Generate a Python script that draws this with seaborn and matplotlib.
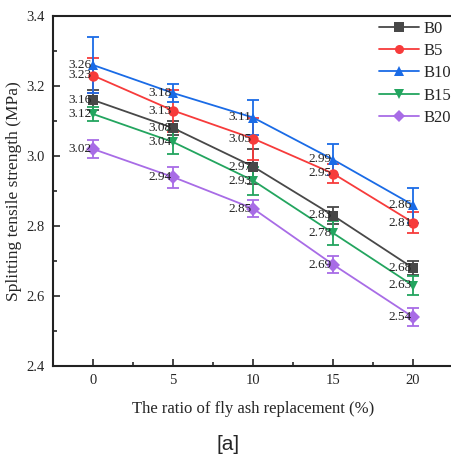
import numpy as np
import pandas as pd
import matplotlib
matplotlib.use("Agg")
import matplotlib.pyplot as plt
import seaborn as sns
from matplotlib.ticker import MultipleLocator
from matplotlib.lines import Line2D

x_vals = [0, 5, 10, 15, 20]
series = ["B0", "B5", "B10", "B15", "B20"]
B0 = [3.16, 3.08, 2.97, 2.83, 2.68]
B5 = [3.23, 3.13, 3.05, 2.95, 2.81]
B10 = [3.26, 3.18, 3.11, 2.99, 2.86]
B15 = [3.12, 3.04, 2.93, 2.78, 2.63]
B20 = [3.02, 2.94, 2.85, 2.69, 2.54]
err_B0 = [0.03, 0.02, 0.05, 0.025, 0.02]
err_B5 = [0.05, 0.06, 0.06, 0.027, 0.03]
err_B10 = [0.08, 0.025, 0.05, 0.045, 0.05]
err_B15 = [0.02, 0.035, 0.04, 0.035, 0.027]
err_B20 = [0.025, 0.03, 0.025, 0.025, 0.027]

values = [B0, B5, B10, B15, B20]
errs = [err_B0, err_B5, err_B10, err_B15, err_B20]
colors = ["#484848", "#f73b3b", "#1a6be6", "#23a55f", "#a86ce6"]
markers = ["s", "o", "^", "v", "D"]

df = pd.DataFrame({
    "x": np.tile(x_vals, len(series)),
    "y": np.concatenate(values),
    "s": np.repeat(series, len(x_vals)),
})

sns.set_style("ticks")
plt.rcParams["font.family"] = ["Liberation Serif", "DejaVu Serif"]

fig = plt.figure(figsize=(4.51, 4.63), dpi=100)
W, H = 451, 463
x0, x1 = 53, 453
y_top, y_bot = 16, 366
ax = fig.add_axes([x0 / W, 1 - y_bot / H, (x1 - x0) / W, (y_bot - y_top) / H])

for i, s in enumerate(series):
    ax.errorbar(x_vals, values[i], yerr=errs[i], fmt="none", ecolor=colors[i],
                elinewidth=1.3, capsize=4, capthick=1.3, zorder=2)

sns.lineplot(data=df, x="x", y="y", hue="s", style="s", hue_order=series,
             style_order=series, palette=colors, markers=dict(zip(series, markers)),
             dashes=False, linewidth=1.3, markersize=7.5, markeredgewidth=0,
             ax=ax, legend=False, zorder=3)

for i, s in enumerate(series):
    for xv, yv in zip(x_vals, values[i]):
        ax.annotate(f"{yv:.2f}", (xv, yv), xytext=(-1, 0), textcoords="offset points",
                    ha="right", va="center", fontsize=9.5, color="#222222", zorder=4)

ax.set_xlim(-2.5, 22.5)
ax.set_ylim(2.4, 3.4)
ax.xaxis.set_major_locator(MultipleLocator(5))
ax.xaxis.set_minor_locator(MultipleLocator(2.5))
ax.yaxis.set_major_locator(MultipleLocator(0.2))
ax.yaxis.set_minor_locator(MultipleLocator(0.1))
ax.yaxis.set_major_formatter(matplotlib.ticker.FormatStrFormatter("%.1f"))
ax.tick_params(which="major", direction="in", length=5, width=1.2, labelsize=10.5,
               top=False, right=False, pad=6)
ax.tick_params(which="minor", direction="in", length=3, width=1.2, top=False, right=False)
for sp in ax.spines.values():
    sp.set_linewidth(1.5)
    sp.set_color("#222222")
ax.spines["right"].set_visible(False)

ax.set_xlabel("The ratio of fly ash replacement (%)", fontsize=12, labelpad=10)
ax.set_ylabel("Splitting tensile strength (MPa)", fontsize=12.5, labelpad=3)

handles = [Line2D([], [], color=c, marker=m, markersize=6.5, markeredgewidth=0, linewidth=1.3)
           for c, m in zip(colors, markers)]
fig.legend(handles, series, loc="upper left", bbox_to_anchor=(372 / W, 1 - 14 / H),
           frameon=False, fontsize=12, handlelength=2.4, handletextpad=0.3,
           labelspacing=0.38, borderaxespad=0)

fig.text(228 / W, 1 - 445 / H, "[a]", ha="center", va="center", fontsize=15,
         family=["Liberation Sans", "DejaVu Sans"])

fig.savefig("out.png", dpi=100)
